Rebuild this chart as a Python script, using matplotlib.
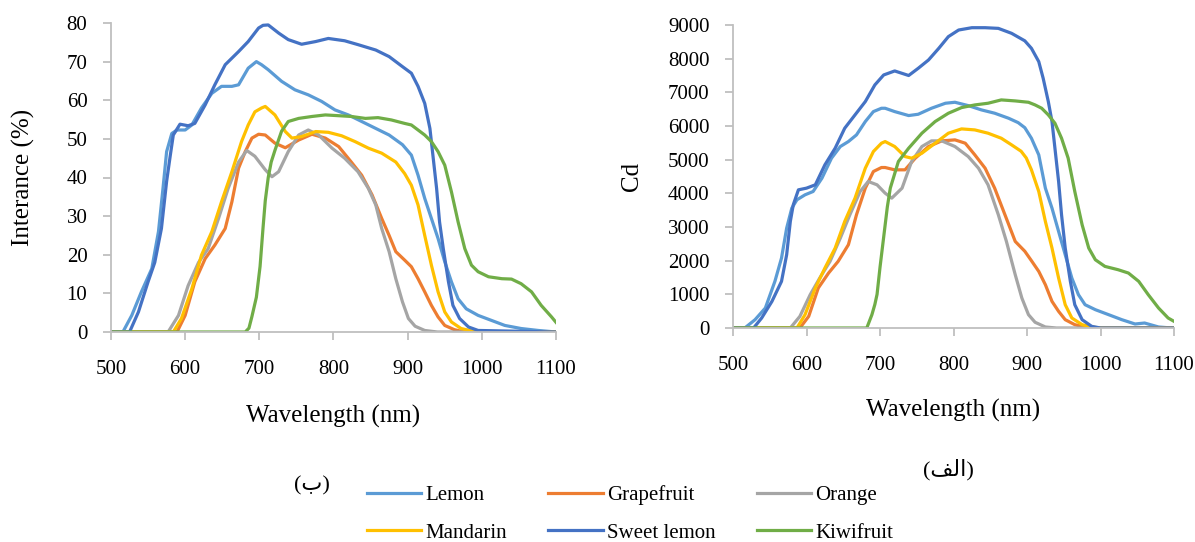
import matplotlib
matplotlib.use("Agg")
import matplotlib.pyplot as plt

plt.rcParams['font.family'] = ['Liberation Serif', 'DejaVu Sans']

names = ['Lemon', 'Grapefruit', 'Orange', 'Mandarin', 'Sweet lemon', 'Kiwifruit']
colors = ['#5B9BD5', '#ED7D31', '#A5A5A5', '#FFC000', '#4472C4', '#70AD47']

# ---- left panel (ب): Interance (%) ----
wl_lemon_b = [500, 516, 528, 541, 555, 564, 570, 575, 582, 589, 600, 609, 622, 636, 649, 663, 672, 685, 696, 703,
              712, 730, 748, 766, 784, 802, 820, 838, 857, 875, 893, 905, 914, 923, 932, 941, 950, 959, 968, 979,
              995, 1013, 1031, 1053, 1076, 1100]
lemon_b = [0, 0, 4.3, 10.4, 16.4, 26, 37, 46.7, 51.4, 52.3, 52.3, 53.6, 58, 61.8, 63.6, 63.6, 64, 68.3, 70, 69.2,
           67.9, 64.9, 62.7, 61.4, 59.7, 57.5, 56.2, 54.5, 52.7, 51, 48.5, 45.8, 40.6, 34.6, 29.4, 24.2, 18.2, 13, 8.6, 6,
           4.3, 3, 1.7, 0.9, 0.4, 0]

wl_grape_b = [500, 589, 600, 613, 627, 640, 654, 663, 672, 681, 690, 699, 708, 721, 735, 753, 771, 789, 807, 824,
              838, 852, 865, 875, 884, 896, 905, 914, 923, 932, 941, 950, 963, 977, 1100]
grape_b = [0, 0, 4.3, 13, 19, 22.5, 26.8, 33.7, 42.4, 46.7, 50.2, 51.2, 51, 48.9, 47.7, 49.7, 51.2, 50.2, 48, 44,
           40.6, 35.5, 29.4, 25, 20.8, 18.6, 16.9, 13.8, 10.4, 6.9, 3.9, 1.7, 0.6, 0, 0]

wl_orange_b = [500, 577, 591, 604, 618, 631, 645, 658, 672, 683, 694, 708, 717, 726, 739, 753, 766, 780, 798, 815,
               833, 847, 857, 865, 875, 884, 893, 901, 910, 923, 940, 1100]
orange_b = [0, 0, 4.3, 12, 18, 21.6, 29.4, 37.2, 44, 47, 45.5, 42, 40.2, 41.5, 46.7, 51, 52.3, 51, 47.6, 45,
            41.5, 37.2, 32.9, 26.8, 20.8, 13.8, 7.8, 3.5, 1.5, 0.4, 0, 0]

wl_mand_b = [500, 584, 595, 609, 622, 636, 649, 663, 676, 685, 694, 703, 708, 721, 735, 744, 757, 776, 793, 811,
             829, 847, 865, 884, 896, 905, 914, 923, 932, 941, 950, 959, 972, 986, 1000, 1100]
mand_b = [0, 0, 3.5, 11.2, 19.9, 26, 33.7, 41.5, 49.3, 53.6, 57, 58, 58.4, 56.2, 51.9, 50.2, 50.6, 51.9, 51.7, 50.8,
          49.3, 47.6, 46.3, 44, 41, 38, 32.9, 25, 17.3, 10.4, 5.2, 2.6, 0.9, 0.3, 0, 0]

wl_sweet_b = [500, 525, 537, 550, 559, 568, 575, 580, 584, 593, 604, 613, 627, 640, 654, 672, 685, 699, 705, 712,
              726, 739, 757, 776, 793, 815, 833, 857, 875, 893, 905, 914, 923, 930, 934, 939, 943, 948, 955, 961,
              970, 982, 995, 1100]
sweet_b = [0, 0, 5.2, 13, 18, 26.8, 39, 45.8, 51, 53.8, 53.4, 54, 58.8, 64, 69.2, 72.6, 75.2, 78.7, 79.4, 79.5,
           77.4, 75.7, 74.5, 75.2, 76, 75.4, 74.4, 73, 71.3, 68.7, 67, 63.6, 59.2, 52.7, 45.8, 37.2, 28.5, 21.6, 13, 6.9,
           3.5, 1.3, 0.4, 0]

wl_kiwi_b = [500, 681, 686, 690, 696, 701, 705, 708, 712, 716, 721, 730, 739, 753, 771, 789, 807, 824, 843, 860,
             878, 896, 905, 914, 923, 932, 941, 950, 959, 968, 977, 986, 995, 1009, 1027, 1040, 1053, 1067, 1080, 1094,
             1100]
kiwi_b = [0, 0, 1, 4, 9, 17, 27, 34, 40, 44, 47, 52, 54.5, 55.3, 55.8, 56.2, 56, 55.8, 55.3, 55.5,
          54.9, 54, 53.6, 52.3, 51, 49.3, 46.7, 43.2, 36.3, 28.5, 21.6, 17.3, 15.6, 14.3, 13.8, 13.7, 12.5, 10.4, 6.9, 3.9,
          2.5]

# ---- right panel (الف): Cd ----
wl_lemon_a = [500, 516, 530, 544, 557, 566, 573, 580, 587, 598, 609, 621, 634, 646, 657, 668, 680, 691, 702, 707,
              720, 739, 752, 770, 789, 802, 820, 838, 856, 875, 888, 897, 906, 916, 925, 934, 943, 952, 961, 970,
              979, 993, 1011, 1029, 1047, 1060, 1079, 1097, 1100]
lemon_a = [0, 0, 247, 593, 1385, 2077, 2967, 3560, 3808, 3956, 4055, 4450, 5044, 5390, 5538, 5736, 6132, 6428, 6527, 6527,
           6428, 6310, 6349, 6527, 6676, 6705, 6606, 6478, 6380, 6230, 6100, 5950, 5637, 5143, 4154, 3560, 2868, 2176, 1484, 989,
           692, 544, 396, 247, 119, 148, 30, 0, 0]

wl_grape_a = [500, 591, 603, 616, 630, 643, 657, 668, 680, 691, 702, 707, 720, 734, 748, 766, 784, 802, 816, 829,
              843, 856, 870, 884, 897, 906, 916, 925, 934, 943, 952, 965, 979, 990, 1100]
grape_a = [0, 0, 346, 1187, 1632, 1978, 2473, 3363, 4154, 4648, 4767, 4767, 4698, 4698, 5044, 5390, 5558, 5588, 5489, 5143,
           4747, 4154, 3363, 2571, 2280, 2000, 1681, 1286, 791, 494, 247, 99, 30, 0, 0]

wl_orange_a = [500, 578, 591, 605, 618, 632, 646, 659, 673, 684, 696, 707, 716, 730, 743, 757, 770, 784, 802, 820,
               834, 847, 861, 872, 884, 893, 902, 911, 925, 940, 1100]
orange_a = [0, 0, 346, 989, 1484, 1978, 2670, 3363, 4055, 4352, 4253, 4005, 3857, 4154, 4945, 5390, 5558, 5558, 5390, 5093,
            4747, 4253, 3363, 2571, 1582, 890, 396, 170, 30, 0, 0]

wl_mand_a = [500, 587, 598, 612, 625, 639, 652, 666, 680, 691, 702, 707, 720, 734, 743, 757, 775, 793, 811, 829,
             847, 865, 879, 892, 899, 906, 916, 925, 934, 943, 952, 961, 975, 988, 1000, 1100]
mand_a = [0, 0, 396, 1187, 1780, 2374, 3165, 3857, 4747, 5242, 5489, 5538, 5390, 5093, 5044, 5192, 5489, 5786, 5914, 5884,
          5786, 5637, 5440, 5250, 5050, 4700, 4055, 3165, 2374, 1484, 692, 297, 99, 30, 0, 0]

wl_sweet_a = [500, 528, 539, 553, 566, 573, 578, 582, 589, 600, 612, 625, 639, 652, 666, 680, 693, 705, 720, 739,
              752, 766, 780, 793, 807, 825, 843, 861, 879, 897, 906, 916, 922, 929, 934, 938, 943, 947, 952, 959,
              965, 975, 988, 1000, 1100]
sweet_a = [0, 0, 297, 791, 1385, 2176, 3165, 3659, 4104, 4154, 4253, 4846, 5341, 5934, 6330, 6725, 7220, 7516, 7635, 7500,
           7714, 7961, 8308, 8654, 8851, 8920, 8920, 8900, 8753, 8530, 8308, 7912, 7417, 6725, 6132, 5341, 4352, 3363, 2374, 1385,
           692, 247, 49, 0, 0]

wl_kiwi_a = [500, 682, 689, 693, 696, 700, 705, 710, 714, 725, 739, 757, 775, 793, 811, 829, 847, 865, 884, 902,
             911, 920, 929, 938, 947, 956, 965, 975, 984, 993, 1006, 1024, 1038, 1052, 1065, 1079, 1092, 1100]
kiwi_a = [0, 0, 396, 700, 1000, 1800, 2700, 3600, 4154, 4945, 5341, 5786, 6132, 6379, 6547, 6626, 6676, 6775, 6745, 6705,
          6626, 6527, 6330, 6082, 5637, 5044, 4055, 3066, 2374, 2027, 1830, 1731, 1632, 1385, 989, 593, 297, 198]

series_b = [(wl_lemon_b, lemon_b), (wl_grape_b, grape_b), (wl_orange_b, orange_b),
            (wl_mand_b, mand_b), (wl_sweet_b, sweet_b), (wl_kiwi_b, kiwi_b)]
series_a = [(wl_lemon_a, lemon_a), (wl_grape_a, grape_a), (wl_orange_a, orange_a),
            (wl_mand_a, mand_a), (wl_sweet_a, sweet_a), (wl_kiwi_a, kiwi_a)]

x_ticks = [500, 600, 700, 800, 900, 1000, 1100]

fig = plt.figure(figsize=(11.95, 5.42), dpi=100)
ax1 = fig.add_axes([111 / 1195, 1 - 332 / 542, 445 / 1195, 309 / 542])
ax2 = fig.add_axes([733 / 1195, 1 - 328 / 542, 441 / 1195, 303 / 542])


def style(ax, ymax, ystep, ylabel, ylab_x):
    ax.set_xlim(500, 1100)
    ax.set_ylim(0, ymax)
    ax.set_xticks(x_ticks)
    ax.set_yticks(range(0, ymax + 1, ystep))
    for s in ['top', 'right']:
        ax.spines[s].set_visible(False)
    for s in ['left', 'bottom']:
        ax.spines[s].set_color('#BFBFBF')
        ax.spines[s].set_linewidth(1.3)
    ax.tick_params(axis='both', direction='out', length=6, width=1.3, color='#BFBFBF',
                   labelsize=15, labelcolor='black')
    ax.tick_params(axis='y', pad=11)
    ax.tick_params(axis='x', pad=14)
    ax.set_xlabel('Wavelength (nm)', fontsize=18)
    ax.set_ylabel(ylabel, fontsize=18)
    ax.xaxis.set_label_coords(0.5, -0.235)
    ax.yaxis.set_label_coords(ylab_x, 0.5)


lines = []
for (x, y), c, n in zip(series_b, colors, names):
    ax1.plot(x, y, color=c, lw=2.3, solid_joinstyle='round')
for (x, y), c, n in zip(series_a, colors, names):
    ln, = ax2.plot(x, y, color=c, lw=2.3, label=n, solid_joinstyle='round')
    lines.append(ln)

style(ax1, 80, 10, 'Interance (%)', -0.17)
style(ax2, 9000, 1000, 'Cd', -0.205)

order = [0, 3, 1, 4, 2, 5]
fig.legend([lines[i] for i in order], [names[i] for i in order], ncol=3, loc='center',
           bbox_to_anchor=(630 / 1195, 1 - 514 / 542), frameon=False, fontsize=15,
           handlelength=2.6, handletextpad=0.2, columnspacing=2.0, labelspacing=0.85)

fig.text(312 / 1195, 1 - 486 / 542, '(\u0628)', fontsize=16, ha='center', va='center')
fig.text(948 / 1195, 1 - 470 / 542, '(\uFED2\uFEDF\uFE8D)', fontsize=16, ha='center', va='center')

fig.savefig('out.png', dpi=100)
